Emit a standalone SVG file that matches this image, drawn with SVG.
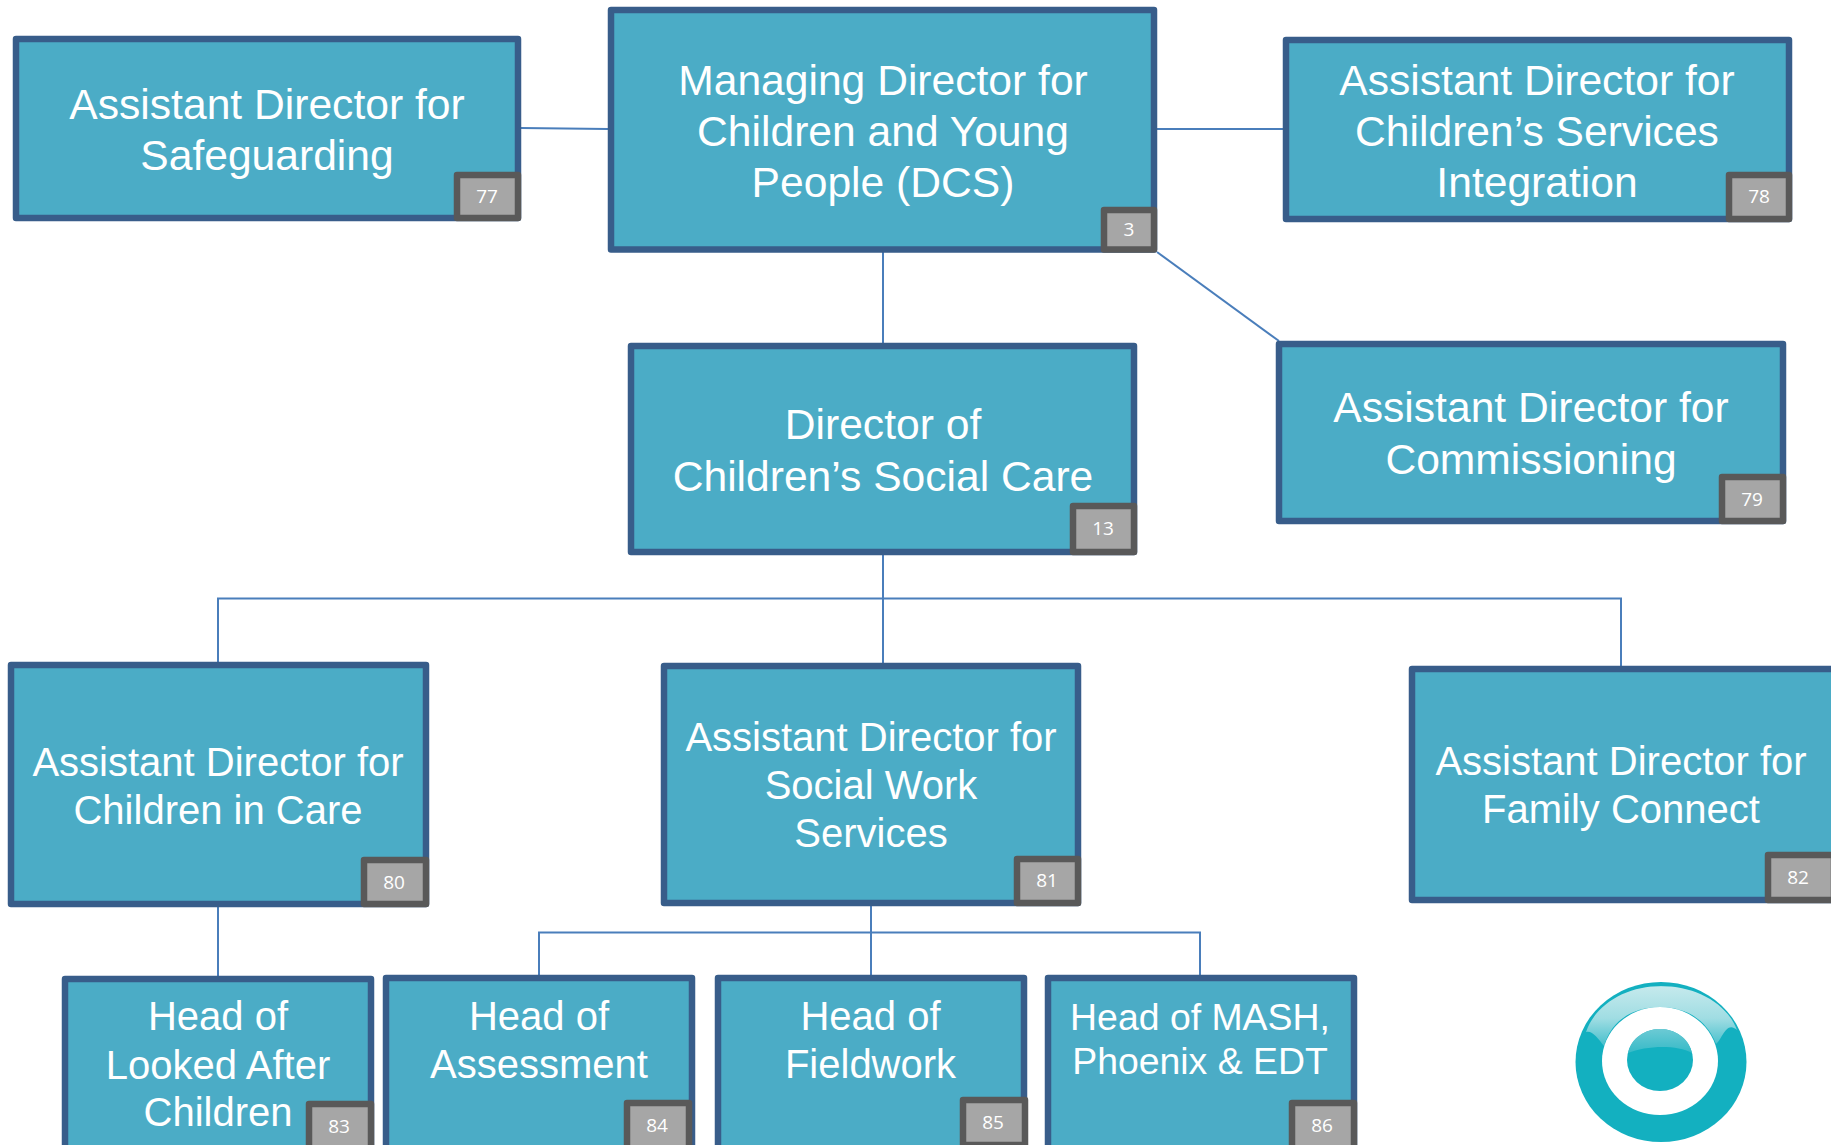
<svg xmlns="http://www.w3.org/2000/svg" width="1831" height="1145" viewBox="0 0 1831 1145">
<style>
.box{fill:#4bacc6;stroke:#385d8a;stroke-width:6.5;stroke-linejoin:round}
.badge{fill:#a6a6a6;stroke:#595959;stroke-width:6.5;stroke-linejoin:round}
.t{fill:#fff;font-family:"Liberation Sans",Arial,sans-serif;font-size:42.6px;text-anchor:middle}
.s{font-size:40px}
.m{font-size:37.4px}
.n{fill:#fff;font-family:"Open Sans",sans-serif;font-size:19px;text-anchor:middle}
.c{fill:none;stroke:#4a7ebb;stroke-width:2}
</style>
<defs>
<linearGradient id="gl" gradientUnits="userSpaceOnUse" x1="0" y1="982" x2="0" y2="1048"><stop offset="0" stop-color="#13b0c0"/><stop offset=".08" stop-color="#c4e9ec"/><stop offset=".55" stop-color="#a0dde3"/><stop offset="1" stop-color="#3fbdca"/></linearGradient>
<linearGradient id="gi" gradientUnits="userSpaceOnUse" x1="0" y1="1029" x2="0" y2="1056"><stop offset="0" stop-color="#6ccad4"/><stop offset="1" stop-color="#2fb8c6"/></linearGradient>
</defs>
<rect width="1831" height="1145" fill="#fff"/>
<g id="connectors" class="c">
<path d="M521 128L608 129"/>
<path d="M1157 129H1283"/>
<path d="M883 252V343"/>
<path d="M1157 252L1279 341"/>
<path d="M883 555V664"/>
<path d="M218 662V598.500H1621V667"/>
<path d="M218 907V976"/>
<path d="M871 905V975"/>
<path d="M539 975V932.500H1200V975"/>
</g>
<g id="n77"><rect class="box" x="16" y="39" width="502" height="179"/><text class="t" x="267" y="119">Assistant Director for</text><text class="t" x="267" y="170">Safeguarding</text><rect class="badge" x="457" y="175" width="61" height="43"/><text class="n" x="487" y="203">77</text></g>
<g id="n3"><rect class="box" x="611" y="10" width="543" height="239.500"/><text class="t" x="883" y="95">Managing Director for</text><text class="t" x="883" y="146">Children and Young</text><text class="t" x="883" y="197">People (DCS)</text><rect class="badge" x="1104" y="210" width="50" height="39.500"/><text class="n" x="1129" y="236">3</text></g>
<g id="n78"><rect class="box" x="1286" y="40" width="503" height="179"/><text class="t" x="1537" y="95">Assistant Director for</text><text class="t" x="1537" y="146">Children’s Services</text><text class="t" x="1537" y="197">Integration</text><rect class="badge" x="1729" y="175" width="60" height="44"/><text class="n" x="1759" y="203">78</text></g>
<g id="n79"><rect class="box" x="1279" y="344" width="504" height="177"/><text class="t" x="1531" y="422">Assistant Director for</text><text class="t" x="1531" y="474">Commissioning</text><rect class="badge" x="1722" y="477" width="61" height="44"/><text class="n" x="1752" y="506">79</text></g>
<g id="n13"><rect class="box" x="631" y="346" width="503" height="206"/><text class="t" x="883" y="439">Director of</text><text class="t" x="883" y="491">Children’s Social Care</text><rect class="badge" x="1073" y="506" width="61" height="46"/><text class="n" x="1103" y="535">13</text></g>
<g id="n80"><rect class="box" x="11" y="665" width="415" height="239"/><text class="t s" x="218" y="776">Assistant Director for</text><text class="t s" x="218" y="824">Children in Care</text><rect class="badge" x="364" y="860" width="62" height="44"/><text class="n" x="394" y="889">80</text></g>
<g id="n81"><rect class="box" x="664" y="666" width="414" height="237"/><text class="t s" x="871" y="751">Assistant Director for</text><text class="t s" x="871" y="799">Social Work</text><text class="t s" x="871" y="847">Services</text><rect class="badge" x="1017" y="859" width="61" height="44"/><text class="n" x="1047" y="887">81</text></g>
<g id="n82"><rect class="box" x="1412" y="669" width="425" height="231"/><text class="t s" x="1621" y="775">Assistant Director for</text><text class="t s" x="1621" y="823">Family Connect</text><rect class="badge" x="1768" y="855" width="66" height="45"/><text class="n" x="1798" y="884">82</text></g>
<g id="n83"><rect class="box" x="65" y="979" width="306" height="180"/><text class="t s" x="218" y="1030">Head of</text><text class="t s" x="218" y="1079">Looked After</text><text class="t s" x="218" y="1126">Children</text><rect class="badge" x="309" y="1104" width="62" height="50"/><text class="n" x="339" y="1133">83</text></g>
<g id="n84"><rect class="box" x="386" y="978" width="306" height="180"/><text class="t s" x="539" y="1030">Head of</text><text class="t s" x="539" y="1078">Assessment</text><rect class="badge" x="627" y="1103" width="62" height="50"/><text class="n" x="657" y="1132">84</text></g>
<g id="n85"><rect class="box" x="718" y="978" width="306" height="180"/><text class="t s" x="870.500" y="1030">Head of</text><text class="t s" x="870.500" y="1078">Fieldwork</text><rect class="badge" x="963" y="1100" width="62" height="45"/><text class="n" x="993" y="1129">85</text></g>
<g id="n86"><rect class="box" x="1048" y="978" width="306" height="180"/><text class="t m" x="1200" y="1030">Head of MASH,</text><text class="t m" x="1200" y="1074">Phoenix &amp; EDT</text><rect class="badge" x="1292" y="1103" width="62" height="50"/><text class="n" x="1322" y="1132">86</text></g>
<g id="logo">
<ellipse cx="1661" cy="1062" rx="85.500" ry="80" fill="#13b0c0"/>
<path d="M1586 1032C1596 1003 1628 986 1661 986C1695 986 1727 1003 1737 1030C1726 1020 1722 1040 1716 1044C1706 1018 1684 1007 1660 1007C1636 1007 1612 1018 1604 1046C1598 1038 1592 1030 1586 1032Z" fill="url(#gl)"/>
<ellipse cx="1660" cy="1061" rx="58" ry="54" fill="#fff"/>
<ellipse cx="1660" cy="1060" rx="33" ry="31" fill="#13b0c0"/>
<path d="M1628 1053C1631 1038 1645 1029 1660 1029C1675 1029 1689 1038 1692 1053C1676 1044 1645 1046 1628 1053Z" fill="url(#gi)"/>
</g>
</svg>
